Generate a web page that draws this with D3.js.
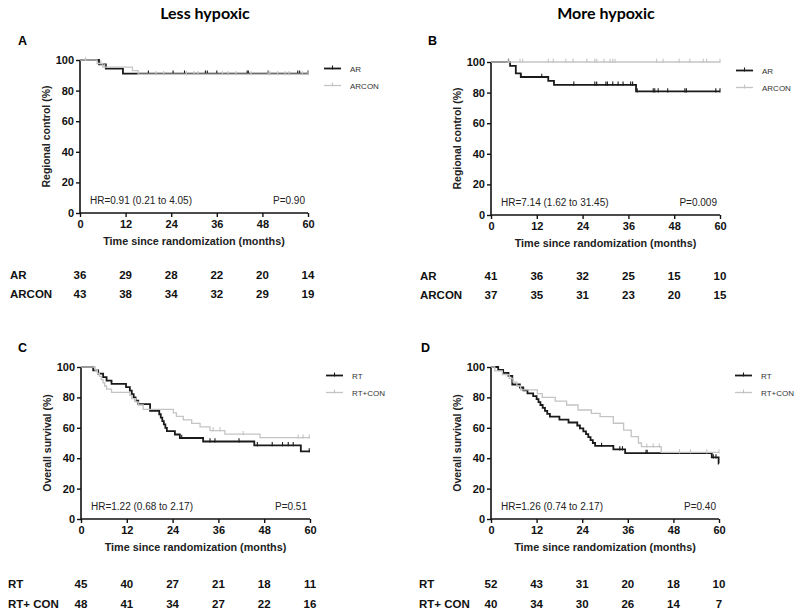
<!DOCTYPE html>
<html>
<head>
<meta charset="utf-8">
<script src="https://cdn.jsdelivr.net/npm/d3@7"></script>
<style>
  html, body { margin: 0; padding: 0; background: #fff; }
  svg { display: block; }
</style>
</head>
<body>
<svg id="chart" width="800" height="612"></svg>
<script>
// ---------- shared ticks ----------
const timeTicks = [0, 12, 24, 36, 48, 60];
const yTicks = [0, 20, 40, 60, 80, 100];
const columnTitles = ["Less hypoxic", "More hypoxic"];
const xTitle = "Time since randomization (months)";

// ---------- Panel A: Regional control, less hypoxic ----------
const aArTimes = [0, 5.0, 6.8, 11.3];
const aArSurv = [100, 97.2, 94.4, 91.1];
const aArCensor = [18, 24.5, 27.5, 33, 33.5, 36, 44, 44.3, 49.5, 57.3, 57.8, 60];
const aArconTimes = [0, 4.5, 6.0, 13.8, 15.3];
const aArconSurv = [100, 97.7, 95.3, 93.0, 90.7];
const aArconCensor = [1.5, 5.5, 6.5, 20, 22, 28, 30, 31, 37.5, 39, 41, 45, 49.5, 50, 52, 54, 55, 58.5, 60];
const aRiskAr = [36, 29, 28, 22, 20, 14];
const aRiskArcon = [43, 38, 34, 32, 29, 19];

// ---------- Panel B: Regional control, more hypoxic ----------
const bArTimes = [0, 5.0, 6.5, 7.8, 15.0, 16.5, 38.0];
const bArSurv = [100, 97.5, 92.6, 90.2, 87.7, 85.1, 80.8];
const bArCensor = [4.6, 7.85, 13.3, 21.7, 27.2, 27.7, 30.1, 30.5, 31.9, 33.3, 34.6, 36.6, 37.1, 38.3, 42.5, 42.9, 43.8, 46.3, 50.8, 51.2, 58.9, 60];
const bArconTimes = [0];
const bArconSurv = [100];
const bArconCensor = [4.5, 7.6, 8.3, 15, 16.3, 19.6, 21.5, 25.1, 27.2, 27.7, 29.6, 31.2, 31.9, 32.5, 43.4, 45.1, 49.3, 52.1, 55.6, 56.5, 60];
const bRiskAr = [41, 36, 32, 25, 15, 10];
const bRiskArcon = [37, 35, 31, 23, 20, 15];

// ---------- Panel C: Overall survival, less hypoxic ----------
const cRtTimes = [0, 3.2, 4.5, 5.8, 6.7, 8.0, 11.8, 12.8, 13.3, 13.8, 14.3, 15.0, 18.1, 20.5, 20.9, 21.3, 21.7, 22.1, 22.5, 24.6, 25.9, 32.0, 45.4, 57.6];
const cRtSurv = [100, 97.8, 95.6, 93.3, 91.1, 88.9, 86.7, 84.4, 82.2, 80.0, 77.8, 75.6, 71.1, 68.9, 66.7, 64.4, 62.2, 60.0, 57.8, 55.6, 53.3, 51.0, 48.5, 44.5];
const cRtCensor = [26.4, 33.8, 35.1, 41.4, 46.2, 50.1, 52.8, 54.3, 55.6, 59.8];
const cRtconTimes = [0, 3.7, 4.3, 4.8, 5.3, 5.8, 6.2, 6.7, 8.0, 12.8, 13.3, 14.3, 15.0, 16.3, 24.2, 25.0, 26.8, 29.0, 31.2, 33.8, 37.7, 46.9];
const cRtconSurv = [100, 97.9, 95.8, 93.8, 91.7, 89.6, 87.5, 85.4, 83.3, 81.3, 79.2, 77.1, 75.0, 72.1, 69.8, 67.5, 65.2, 62.9, 60.6, 58.2, 55.8, 53.5];
const cRtconCensor = [34.6, 36.4, 42.5, 56.9, 58.2, 59.8];
const cRiskRt = [45, 40, 27, 21, 18, 11];
const cRiskRtcon = [48, 41, 34, 27, 22, 16];

// ---------- Panel D: Overall survival, more hypoxic ----------
const dRtTimes = [0, 1.9, 3.2, 4.6, 5.6, 7.6, 8.5, 9.6, 11.1, 12.0, 12.5, 13.0, 13.6, 14.2, 14.8, 15.5, 18.0, 20.4, 22.7, 23.4, 24.3, 25.0, 25.6, 26.2, 26.8, 27.4, 32.2, 35.3, 58.1, 59.9];
const dRtSurv = [100, 98.1, 96.2, 94.2, 88.5, 86.5, 84.6, 82.7, 80.8, 78.8, 76.9, 75.0, 73.1, 71.2, 69.2, 67.3, 65.4, 63.5, 61.5, 59.6, 57.7, 55.8, 53.8, 51.9, 50.0, 48.1, 45.8, 43.4, 40.5, 36.5];
const dRtCensor = [29.1, 33.9, 34.6, 40.8, 41.1, 58.5, 59.2];
const dRtconTimes = [0, 1.0, 3.0, 4.8, 5.8, 6.8, 7.8, 12.2, 13.5, 16.9, 19.9, 22.9, 26.4, 28.7, 32.2, 34.9, 36.9, 38.8, 39.6, 44.8];
const dRtconSurv = [100, 97.5, 95.0, 92.5, 90.0, 87.5, 85.0, 82.5, 80.0, 77.5, 75.0, 71.7, 69.5, 67.3, 63.0, 58.5, 54.2, 50.0, 47.6, 43.8];
const dRtconCensor = [41.0, 42.7, 44.3, 49.6, 52.5, 56.8, 60];
const dRiskRt = [52, 43, 31, 20, 18, 10];
const dRiskRtcon = [40, 34, 30, 26, 14, 7];

// ---------- panel configurations ----------
const panels = [
  { letter: "A", ylab: "Regional control (%)", hr: "HR=0.91 (0.21 to 4.05)", p: "P=0.90",
    box: { l: 80, r: 308, t: 60, b: 213 }, letterPos: [18, 45],
    series: [
      { name: "AR", times: aArTimes, surv: aArSurv, censor: aArCensor, risk: aRiskAr, label: "AR", color: "#1a1a1a", w: 1.8 },
      { name: "ARCON", times: aArconTimes, surv: aArconSurv, censor: aArconCensor, risk: aRiskArcon, label: "ARCON", color: "#c4c4c4", w: 1.3 }
    ], riskLabelX: 10, riskY: [279, 298] },
  { letter: "B", ylab: "Regional control (%)", hr: "HR=7.14 (1.62 to 31.45)", p: "P=0.009",
    box: { l: 491, r: 720, t: 62, b: 215 }, letterPos: [428, 45],
    series: [
      { name: "AR", times: bArTimes, surv: bArSurv, censor: bArCensor, risk: bRiskAr, label: "AR", color: "#1a1a1a", w: 1.8 },
      { name: "ARCON", times: bArconTimes, surv: bArconSurv, censor: bArconCensor, risk: bRiskArcon, label: "ARCON", color: "#c4c4c4", w: 1.3 }
    ], riskLabelX: 420, riskY: [280, 299] },
  { letter: "C", ylab: "Overall survival (%)", hr: "HR=1.22 (0.68 to 2.17)", p: "P=0.51",
    box: { l: 81, r: 310, t: 367, b: 519 }, letterPos: [18, 352],
    series: [
      { name: "RT", times: cRtTimes, surv: cRtSurv, censor: cRtCensor, risk: cRiskRt, label: "RT", color: "#1a1a1a", w: 1.8 },
      { name: "RT+CON", times: cRtconTimes, surv: cRtconSurv, censor: cRtconCensor, risk: cRiskRtcon, label: "RT+ CON", color: "#c4c4c4", w: 1.3 }
    ], riskLabelX: 8, riskY: [588, 608] },
  { letter: "D", ylab: "Overall survival (%)", hr: "HR=1.26 (0.74 to 2.17)", p: "P=0.40",
    box: { l: 491, r: 719, t: 367, b: 519 }, letterPos: [421, 352],
    series: [
      { name: "RT", times: dRtTimes, surv: dRtSurv, censor: dRtCensor, risk: dRiskRt, label: "RT", color: "#1a1a1a", w: 1.8 },
      { name: "RT+CON", times: dRtconTimes, surv: dRtconSurv, censor: dRtconCensor, risk: dRiskRtcon, label: "RT+ CON", color: "#c4c4c4", w: 1.3 }
    ], riskLabelX: 419, riskY: [588, 608] }
];

const svg = d3.select("#chart");
const FONT = "'Liberation Sans', Arial, Helvetica, sans-serif";

// column titles
svg.append("text").attr("x", 205).attr("y", 19).attr("text-anchor", "middle")
  .style("font-family", "Lato, 'Open Sans', sans-serif").style("font-weight", "bold").style("font-size", "16px")
  .text(columnTitles[0]);
svg.append("text").attr("x", 606).attr("y", 19).attr("text-anchor", "middle")
  .style("font-family", "Lato, 'Open Sans', sans-serif").style("font-weight", "bold").style("font-size", "16px")
  .text(columnTitles[1]);

panels.forEach(P => {
  const g = svg.append("g");
  const x = d3.scaleLinear().domain([0, 60]).range([P.box.l, P.box.r]);
  const y = d3.scaleLinear().domain([0, 100]).range([P.box.b, P.box.t]);

  // panel letter
  g.append("text").attr("x", P.letterPos[0]).attr("y", P.letterPos[1])
    .style("font-family", FONT).style("font-weight", "bold").style("font-size", "12.5px").text(P.letter);

  // axes
  const yAxis = g.append("g").attr("transform", `translate(${P.box.l},0)`)
    .call(d3.axisLeft(y).tickValues(yTicks).tickSize(4).tickPadding(2));
  const xAxis = g.append("g").attr("transform", `translate(0,${P.box.b})`)
    .call(d3.axisBottom(x).tickValues(timeTicks).tickSize(4).tickPadding(3));
  [yAxis, xAxis].forEach(a => {
    a.select(".domain").attr("stroke", "#111").attr("stroke-width", 1.6);
    a.selectAll(".tick line").attr("stroke", "#111").attr("stroke-width", 1.4);
    a.selectAll(".tick text").style("font-family", FONT).style("font-weight", "bold")
      .style("font-size", "11px").attr("fill", "#111");
  });
  yAxis.select(".domain").attr("d", `M0,${P.box.b}V${P.box.t}`);
  xAxis.select(".domain").attr("d", `M${P.box.l},0H${P.box.r}`);

  // y-axis title
  g.append("text")
    .attr("transform", `translate(${P.box.l - 30},${(P.box.t + P.box.b) / 2}) rotate(-90)`)
    .attr("text-anchor", "middle")
    .style("font-family", FONT).style("font-weight", "bold").style("font-size", "10.5px").attr("fill", "#222")
    .text(P.ylab);

  // x-axis title
  g.append("text").attr("x", (P.box.l + P.box.r) / 2).attr("y", P.box.b + 32)
    .attr("text-anchor", "middle")
    .style("font-family", FONT).style("font-weight", "bold").style("font-size", "10.8px").attr("fill", "#222")
    .text(xTitle);

  // HR and P text
  g.append("text").attr("x", P.box.l + 10).attr("y", P.box.b - 9)
    .style("font-family", FONT).style("font-size", "10px").attr("fill", "#222").text(P.hr);
  g.append("text").attr("x", P.box.r - 3).attr("y", P.box.b - 9).attr("text-anchor", "end")
    .style("font-family", FONT).style("font-size", "10px").attr("fill", "#222").text(P.p);

  // curves: black first, grey drawn on top (as in the source figure)
  const line = d3.line().x(d => x(d[0])).y(d => y(d[1])).curve(d3.curveStepAfter);
  P.series.forEach(s => {
    const pts = s.times.map((t, i) => [t, s.surv[i]]);
    pts.push([60, s.surv[s.surv.length - 1]]);
    g.append("path").datum(pts).attr("d", line)
      .attr("fill", "none").attr("stroke", s.color).attr("stroke-width", s.w);
    g.selectAll(null).data(s.censor).enter().append("line")
      .attr("x1", c => x(c)).attr("x2", c => x(c))
      .attr("y1", c => y(s.surv[d3.bisectRight(s.times, c) - 1]) - 3.2)
      .attr("y2", c => y(s.surv[d3.bisectRight(s.times, c) - 1]) + 1)
      .attr("stroke", s.color).attr("stroke-width", 1.1);
  });

  // legend
  P.series.forEach((s, i) => {
    const ly = P.box.t + 8.5 + i * 17;
    const lx0 = P.box.r + 16, lx1 = P.box.r + 33;
    g.append("line").attr("x1", lx0).attr("x2", lx1).attr("y1", ly).attr("y2", ly)
      .attr("stroke", s.color).attr("stroke-width", s.w);
    g.append("line").attr("x1", (lx0 + lx1) / 2).attr("x2", (lx0 + lx1) / 2).attr("y1", ly - 3).attr("y2", ly + 1)
      .attr("stroke", s.color).attr("stroke-width", 1.1);
    g.append("text").attr("x", P.box.r + 42).attr("y", ly + 3)
      .style("font-family", FONT).style("font-size", "8px").attr("fill", "#333").text(s.name);
  });

  // numbers at risk
  P.series.forEach((s, i) => {
    const ry = P.riskY[i];
    g.append("text").attr("x", P.riskLabelX).attr("y", ry)
      .style("font-family", FONT).style("font-weight", "bold").style("font-size", "11.5px").attr("fill", "#111")
      .text(s.label);
    g.selectAll(null).data(s.risk).enter().append("text")
      .attr("x", (d, k) => x(timeTicks[k])).attr("y", ry).attr("text-anchor", "middle")
      .style("font-family", FONT).style("font-weight", "bold").style("font-size", "11.5px").attr("fill", "#111")
      .text(d => d);
  });
});
</script>
</body>
</html>
